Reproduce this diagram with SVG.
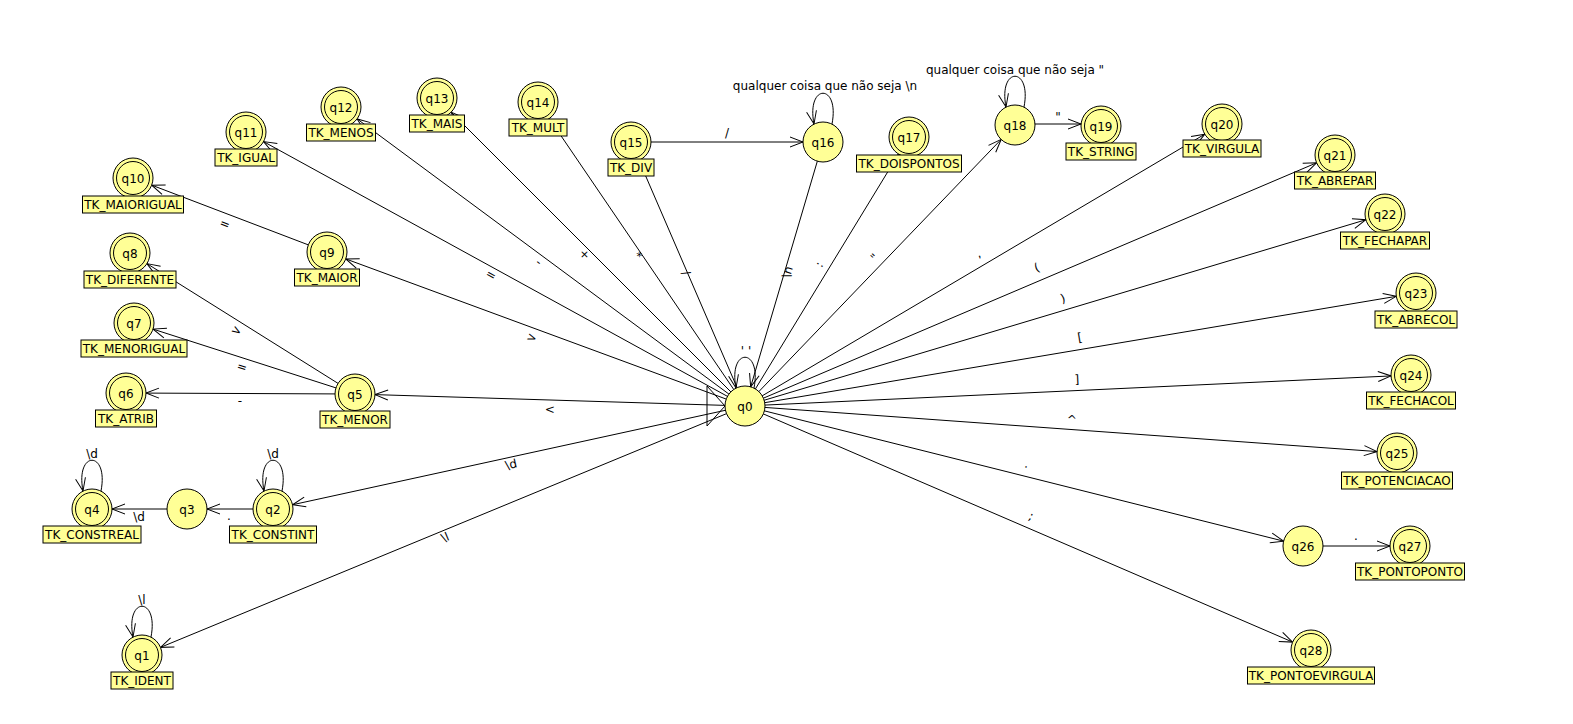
<svg xmlns="http://www.w3.org/2000/svg" width="1573" height="724" viewBox="0 0 1573 724">
<style>
.st{fill:#ffff96;stroke:#000;stroke-width:1}
.in{fill:none;stroke:#000;stroke-width:1}
.lb{fill:#ffff96;stroke:#000;stroke-width:1}
text{font-family:"DejaVu Sans","Liberation Sans",sans-serif;font-size:12px;fill:#000;text-anchor:middle}
#edges line,#edges path{fill:none;stroke:#000;stroke-width:1}
</style>
<defs>
<marker id="a" markerWidth="1" markerHeight="1" orient="auto" markerUnits="userSpaceOnUse" overflow="visible"><path d="M-33,-5 L-20,0 L-33,5" fill="none" stroke="#000"/></marker>
<marker id="l" markerWidth="1" markerHeight="1" orient="auto" markerUnits="userSpaceOnUse" overflow="visible"><path d="M-13,-5 L0,0 L-13,5" fill="none" stroke="#000"/></marker>
</defs>
<rect width="1573" height="724" fill="#fff"/>
<g id="edges">
<line x1="745" y1="406" x2="142" y2="655" marker-end="url(#a)"/>
<line x1="745" y1="406" x2="273" y2="509" marker-end="url(#a)"/>
<line x1="273" y1="509" x2="187" y2="509" marker-end="url(#a)"/>
<line x1="187" y1="509" x2="92" y2="509" marker-end="url(#a)"/>
<line x1="745" y1="406" x2="355" y2="394" marker-end="url(#a)"/>
<line x1="355" y1="394" x2="126" y2="393" marker-end="url(#a)"/>
<line x1="355" y1="394" x2="134" y2="323" marker-end="url(#a)"/>
<line x1="355" y1="394" x2="130" y2="253" marker-end="url(#a)"/>
<line x1="745" y1="406" x2="327" y2="252" marker-end="url(#a)"/>
<line x1="327" y1="252" x2="133" y2="178" marker-end="url(#a)"/>
<line x1="745" y1="406" x2="246" y2="132" marker-end="url(#a)"/>
<line x1="745" y1="406" x2="341" y2="107" marker-end="url(#a)"/>
<line x1="745" y1="406" x2="437" y2="98" marker-end="url(#a)"/>
<line x1="745" y1="406" x2="538" y2="102" marker-end="url(#a)"/>
<line x1="745" y1="406" x2="631" y2="142" marker-end="url(#a)"/>
<line x1="631" y1="142" x2="823" y2="142" marker-end="url(#a)"/>
<line x1="823" y1="142" x2="745" y2="406" marker-end="url(#a)"/>
<line x1="745" y1="406" x2="909" y2="137" marker-end="url(#a)"/>
<line x1="745" y1="406" x2="1015" y2="125" marker-end="url(#a)"/>
<line x1="1015" y1="124" x2="1101" y2="124" marker-end="url(#a)"/>
<line x1="745" y1="406" x2="1222" y2="124" marker-end="url(#a)"/>
<line x1="745" y1="406" x2="1335" y2="155" marker-end="url(#a)"/>
<line x1="745" y1="406" x2="1385" y2="214" marker-end="url(#a)"/>
<line x1="745" y1="406" x2="1416" y2="293" marker-end="url(#a)"/>
<line x1="745" y1="406" x2="1411" y2="375" marker-end="url(#a)"/>
<line x1="745" y1="406" x2="1397" y2="453" marker-end="url(#a)"/>
<line x1="745" y1="406" x2="1303" y2="546" marker-end="url(#a)"/>
<line x1="1303" y1="546" x2="1410" y2="546" marker-end="url(#a)"/>
<line x1="745" y1="406" x2="1311" y2="650" marker-end="url(#a)"/>
<path d="M754,388 C762,347 728,347 736,388" marker-end="url(#l)"/>
<path d="M151,637 C159,596 125,596 133,637" marker-end="url(#l)"/>
<path d="M282,491 C290,450 256,450 264,491" marker-end="url(#l)"/>
<path d="M101,491 C109,450 75,450 83,491" marker-end="url(#l)"/>
<path d="M832,124 C840,83 806,83 814,124" marker-end="url(#l)"/>
<path d="M1024,107 C1032,66 998,66 1006,107" marker-end="url(#l)"/>
<path d="M725,406 L707,386 L707,426 Z"/>
<g id="edge-labels">
<text transform="translate(445,537) rotate(-22.4)" y="4.5">\l</text>
<text transform="translate(511,464) rotate(-12.3)" y="4.5">\d</text>
<text transform="translate(550,409) rotate(1.8)" y="4.5">&lt;</text>
<text transform="translate(532,337) rotate(20.2)" y="4.5">&gt;</text>
<text transform="translate(491,275) rotate(28.8)" y="4">=</text>
<text transform="translate(539,262) rotate(36.5)" y="4">-</text>
<text transform="translate(585,254) rotate(45)" y="4.5">+</text>
<text transform="translate(640,254) rotate(55.7)" y="7">*</text>
<text transform="translate(686,273) rotate(66.6)" y="4">/</text>
<text transform="translate(787,272) rotate(-73.5)" y="4.5">\n</text>
<text transform="translate(820,265) rotate(-58.6)" y="3">:</text>
<text transform="translate(872,255) rotate(-46.1)" y="8">"</text>
<text transform="translate(980,257) rotate(-30.6)" y="0">,</text>
<text transform="translate(1037,268) rotate(-23)" y="3.5">(</text>
<text transform="translate(1063,299) rotate(-16.7)" y="3.5">)</text>
<text transform="translate(1080,338) rotate(-9.6)" y="3.5">[</text>
<text transform="translate(1077,380) rotate(-2.7)" y="3.5">]</text>
<text transform="translate(1072,417) rotate(4.1)" y="7">^</text>
<text transform="translate(1026,467) rotate(14.1)" y="0.8">.</text>
<text transform="translate(1030,519) rotate(23.3)" y="0.8">;</text>
<text transform="translate(240,401)" y="4">-</text>
<text transform="translate(242,367) rotate(17.8)" y="4">=</text>
<text transform="translate(237,330) rotate(32.1)" y="4.5">&gt;</text>
<text transform="translate(225,224) rotate(20.9)" y="4">=</text>
<text x="229" y="520">.</text>
<text x="139" y="521">\d</text>
<text x="727" y="137">/</text>
<text x="1058" y="121">"</text>
<text x="1356" y="540">.</text>
<text x="746" y="355">' '</text>
<text x="142" y="604">\l</text>
<text x="273" y="458">\d</text>
<text x="92" y="458">\d</text>
<text x="825" y="90">qualquer coisa que não seja \n</text>
<text x="1015" y="74">qualquer coisa que não seja "</text>
</g>
</g>
<g id="q0"><circle class="st" cx="745" cy="406" r="20"/><text x="745" y="410.5">q0</text></g>
<g id="q1"><circle class="st" cx="142" cy="655" r="20"/><circle class="in" cx="142" cy="655" r="16.5"/><text x="142" y="659.5">q1</text><rect class="lb" x="111" y="672" width="62" height="17"/><text x="142" y="685">TK_IDENT</text></g>
<g id="q2"><circle class="st" cx="273" cy="509" r="20"/><circle class="in" cx="273" cy="509" r="16.5"/><text x="273" y="513.5">q2</text><rect class="lb" x="229.5" y="526" width="87" height="17"/><text x="273" y="539">TK_CONSTINT</text></g>
<g id="q3"><circle class="st" cx="187" cy="509" r="20"/><text x="187" y="513.5">q3</text></g>
<g id="q4"><circle class="st" cx="92" cy="509" r="20"/><circle class="in" cx="92" cy="509" r="16.5"/><text x="92" y="513.5">q4</text><rect class="lb" x="43" y="526" width="98" height="17"/><text x="92" y="539">TK_CONSTREAL</text></g>
<g id="q5"><circle class="st" cx="355" cy="394" r="20"/><circle class="in" cx="355" cy="394" r="16.5"/><text x="355" y="398.5">q5</text><rect class="lb" x="320" y="411" width="70" height="17"/><text x="355" y="424">TK_MENOR</text></g>
<g id="q6"><circle class="st" cx="126" cy="393" r="20"/><circle class="in" cx="126" cy="393" r="16.5"/><text x="126" y="397.5">q6</text><rect class="lb" x="95.5" y="410" width="61" height="17"/><text x="126" y="423">TK_ATRIB</text></g>
<g id="q7"><circle class="st" cx="134" cy="323" r="20"/><circle class="in" cx="134" cy="323" r="16.5"/><text x="134" y="327.5">q7</text><rect class="lb" x="81" y="340" width="106" height="17"/><text x="134" y="353">TK_MENORIGUAL</text></g>
<g id="q8"><circle class="st" cx="130" cy="253" r="20"/><circle class="in" cx="130" cy="253" r="16.5"/><text x="130" y="257.5">q8</text><rect class="lb" x="84" y="271" width="92" height="17"/><text x="130" y="284">TK_DIFERENTE</text></g>
<g id="q9"><circle class="st" cx="327" cy="252" r="20"/><circle class="in" cx="327" cy="252" r="16.5"/><text x="327" y="256.5">q9</text><rect class="lb" x="294.5" y="269" width="65" height="17"/><text x="327" y="282">TK_MAIOR</text></g>
<g id="q10"><circle class="st" cx="133" cy="178" r="20"/><circle class="in" cx="133" cy="178" r="16.5"/><text x="133" y="182.5">q10</text><rect class="lb" x="82.5" y="196" width="101" height="17"/><text x="133" y="209">TK_MAIORIGUAL</text></g>
<g id="q11"><circle class="st" cx="246" cy="132" r="20"/><circle class="in" cx="246" cy="132" r="16.5"/><text x="246" y="136.5">q11</text><rect class="lb" x="215" y="149" width="62" height="17"/><text x="246" y="162">TK_IGUAL</text></g>
<g id="q12"><circle class="st" cx="341" cy="107" r="20"/><circle class="in" cx="341" cy="107" r="16.5"/><text x="341" y="111.5">q12</text><rect class="lb" x="306.5" y="124" width="69" height="17"/><text x="341" y="137">TK_MENOS</text></g>
<g id="q13"><circle class="st" cx="437" cy="98" r="20"/><circle class="in" cx="437" cy="98" r="16.5"/><text x="437" y="102.5">q13</text><rect class="lb" x="409.5" y="115" width="55" height="17"/><text x="437" y="128">TK_MAIS</text></g>
<g id="q14"><circle class="st" cx="538" cy="102" r="20"/><circle class="in" cx="538" cy="102" r="16.5"/><text x="538" y="106.5">q14</text><rect class="lb" x="509" y="119" width="58" height="17"/><text x="538" y="132">TK_MULT</text></g>
<g id="q15"><circle class="st" cx="631" cy="142" r="20"/><circle class="in" cx="631" cy="142" r="16.5"/><text x="631" y="146.5">q15</text><rect class="lb" x="608" y="159" width="46" height="17"/><text x="631" y="172">TK_DIV</text></g>
<g id="q16"><circle class="st" cx="823" cy="142" r="20"/><text x="823" y="146.5">q16</text></g>
<g id="q17"><circle class="st" cx="909" cy="137" r="20"/><circle class="in" cx="909" cy="137" r="16.5"/><text x="909" y="141.5">q17</text><rect class="lb" x="856.5" y="155" width="105" height="17"/><text x="909" y="168">TK_DOISPONTOS</text></g>
<g id="q18"><circle class="st" cx="1015" cy="125" r="20"/><text x="1015" y="129.5">q18</text></g>
<g id="q19"><circle class="st" cx="1101" cy="126" r="20"/><circle class="in" cx="1101" cy="126" r="16.5"/><text x="1101" y="130.5">q19</text><rect class="lb" x="1066" y="143" width="70" height="17"/><text x="1101" y="156">TK_STRING</text></g>
<g id="q20"><circle class="st" cx="1222" cy="124" r="20"/><circle class="in" cx="1222" cy="124" r="16.5"/><text x="1222" y="128.5">q20</text><rect class="lb" x="1183" y="140" width="78" height="17"/><text x="1222" y="153">TK_VIRGULA</text></g>
<g id="q21"><circle class="st" cx="1335" cy="155" r="20"/><circle class="in" cx="1335" cy="155" r="16.5"/><text x="1335" y="159.5">q21</text><rect class="lb" x="1294.5" y="172" width="81" height="17"/><text x="1335" y="185">TK_ABREPAR</text></g>
<g id="q22"><circle class="st" cx="1385" cy="214" r="20"/><circle class="in" cx="1385" cy="214" r="16.5"/><text x="1385" y="218.5">q22</text><rect class="lb" x="1340.5" y="232" width="89" height="17"/><text x="1385" y="245">TK_FECHAPAR</text></g>
<g id="q23"><circle class="st" cx="1416" cy="293" r="20"/><circle class="in" cx="1416" cy="293" r="16.5"/><text x="1416" y="297.5">q23</text><rect class="lb" x="1375" y="311" width="82" height="17"/><text x="1416" y="324">TK_ABRECOL</text></g>
<g id="q24"><circle class="st" cx="1411" cy="375" r="20"/><circle class="in" cx="1411" cy="375" r="16.5"/><text x="1411" y="379.5">q24</text><rect class="lb" x="1366.5" y="392" width="89" height="17"/><text x="1411" y="405">TK_FECHACOL</text></g>
<g id="q25"><circle class="st" cx="1397" cy="453" r="20"/><circle class="in" cx="1397" cy="453" r="16.5"/><text x="1397" y="457.5">q25</text><rect class="lb" x="1341.5" y="472" width="111" height="17"/><text x="1397" y="485">TK_POTENCIACAO</text></g>
<g id="q26"><circle class="st" cx="1303" cy="546" r="20"/><text x="1303" y="550.5">q26</text></g>
<g id="q27"><circle class="st" cx="1410" cy="546" r="20"/><circle class="in" cx="1410" cy="546" r="16.5"/><text x="1410" y="550.5">q27</text><rect class="lb" x="1355.5" y="563" width="109" height="17"/><text x="1410" y="576">TK_PONTOPONTO</text></g>
<g id="q28"><circle class="st" cx="1311" cy="650" r="20"/><circle class="in" cx="1311" cy="650" r="16.5"/><text x="1311" y="654.5">q28</text><rect class="lb" x="1247.5" y="667" width="127" height="17"/><text x="1311" y="680">TK_PONTOEVIRGULA</text></g>
</svg>
